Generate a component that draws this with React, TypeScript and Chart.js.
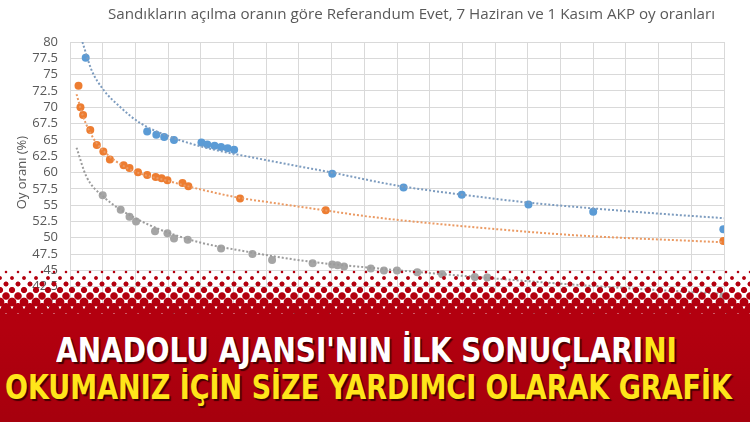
import React, { useEffect, useLayoutEffect, useRef } from "react";
import { Chart, registerables } from "chart.js";

Chart.register(...registerables);

// ---- Data ----
const titleText = "Sandıkların açılma oranın göre Referandum Evet, 7 Haziran ve 1 Kasım AKP oy oranları";
const yAxisTitle = "Oy oranı (%)";

const blueX = [2.4, 11.8, 13.2, 14.4, 15.9, 20.1, 21.0, 22.1, 23.1, 24.1, 25.1, 40.1, 51.0, 59.9, 70.1, 80.0, 99.9];
const blueY = [77.6, 66.3, 65.8, 65.45, 65.0, 64.6, 64.3, 64.1, 63.9, 63.7, 63.5, 59.8, 57.7, 56.6, 55.1, 54.0, 51.3];

const orangeX = [1.3, 1.6, 2.0, 3.1, 4.1, 5.1, 6.1, 8.2, 9.1, 10.4, 11.8, 13.1, 14.0, 14.9, 17.2, 18.1, 26.0, 39.1, 99.9];
const orangeY = [73.3, 70.0, 68.8, 66.5, 64.2, 63.2, 62.0, 61.1, 60.7, 60.05, 59.6, 59.3, 59.1, 58.8, 58.4, 57.9, 56.0, 54.2, 49.5];

const grayX = [5.0, 7.75, 9.1, 10.1, 13.0, 14.9, 15.9, 18.0, 23.1, 27.9, 30.9, 37.1, 40.1, 40.9, 41.9, 46.0, 48.0, 50.0, 53.1, 56.9, 61.9, 63.8, 99.9];
const grayY = [56.5, 54.3, 53.2, 52.5, 51.0, 50.7, 49.9, 49.7, 48.35, 47.5, 46.6, 46.1, 45.9, 45.8, 45.6, 45.3, 45.0, 45.0, 44.7, 44.4, 44.0, 43.9, 41.0];

// Trend lines (dotted)
const blueTrendX = [1.9, 3.3, 5.1, 7.6, 10.7, 15, 20, 30, 40, 50, 60, 70, 80, 90, 100];
const blueTrendY = [80, 75.7, 72.7, 70.1, 67.6, 65.6, 64.0, 61.9, 60.0, 58.0, 56.6, 55.4, 54.5, 53.7, 53.0];

const orangeTrendX = [1.0, 2, 3, 4, 6, 8, 10, 15, 20, 26, 30, 39, 46, 62, 77, 100];
const orangeTrendY = [72.0, 68.6, 66.3, 64.6, 62.5, 61.1, 60.1, 58.7, 57.4, 56.1, 55.5, 54.2, 53.2, 51.6, 50.4, 49.3];

const grayTrendX = [1.0, 2.5, 5, 10, 18, 28, 37, 46, 62, 80, 100];
const grayTrendY = [63.8, 59.4, 56.4, 53.0, 49.8, 47.7, 46.3, 45.4, 44.0, 42.6, 41.4];

const xMin = 0, xMax = 100, xStep = 5;
const yMin = 40, yMax = 80, yStep = 2.5;

const bannerLine1White = "ANADOLU AJANSI'NIN İLK SONUÇLARI";
const bannerLine1Yellow = "NI";
const bannerLine2 = "OKUMANIZ İÇİN SİZE YARDIMCI OLARAK GRAFİK";

const BLUE = "#5b9bd5";
const ORANGE = "#ed7d31";
const GRAY = "#a5a5a5";
const RED = "#b3000f";

const zip = (xs: number[], ys: number[]) => xs.map((x, i) => ({ x, y: ys[i] }));

function FitText(props: { left: number; top: number; width: number; style: React.CSSProperties; children: React.ReactNode }) {
  const ref = useRef<HTMLDivElement>(null);
  useLayoutEffect(() => {
    const el = ref.current;
    if (!el) return;
    el.style.transform = "none";
    const w = el.getBoundingClientRect().width;
    if (w > 0) el.style.transform = `scaleX(${props.width / w})`;
  });
  return (
    <div
      ref={ref}
      style={{
        position: "absolute",
        left: props.left,
        top: props.top,
        whiteSpace: "nowrap",
        transformOrigin: "0 0",
        lineHeight: 1,
        ...props.style,
      }}
    >
      {props.children}
    </div>
  );
}

export default function App() {
  const canvasRef = useRef<HTMLCanvasElement>(null);

  useEffect(() => {
    const canvas = canvasRef.current;
    if (!canvas) return;
    const trend = (xs: number[], ys: number[], color: string) => ({
      type: "scatter" as const,
      data: zip(xs, ys),
      showLine: true,
      borderColor: color,
      borderWidth: 2,
      borderDash: [2, 2],
      pointRadius: 0,
      cubicInterpolationMode: "monotone" as const,
      fill: false,
    });
    const pts = (xs: number[], ys: number[], color: string) => ({
      type: "scatter" as const,
      data: zip(xs, ys),
      showLine: false,
      backgroundColor: color,
      borderColor: color,
      pointRadius: 4,
      pointBorderWidth: 0,
    });
    const chart = new Chart(canvas, {
      type: "scatter",
      data: {
        datasets: [
          trend(blueTrendX, blueTrendY, "#7d9cbf"),
          trend(orangeTrendX, orangeTrendY, "#eb9a63"),
          trend(grayTrendX, grayTrendY, "#9c9c9c"),
          pts(blueX, blueY, BLUE),
          pts(orangeX, orangeY, ORANGE),
          pts(grayX, grayY, GRAY),
        ] as any,
      },
      options: {
        animation: false,
        responsive: false,
        devicePixelRatio: 1,
        layout: { padding: { left: 0, right: 26, top: 42, bottom: 0 } },
        plugins: { legend: { display: false }, tooltip: { enabled: false }, title: { display: false } },
        scales: {
          x: {
            type: "linear",
            min: xMin,
            max: xMax,
            ticks: { stepSize: xStep, autoSkip: false, color: "#595959", font: { size: 13, family: "'Open Sans', sans-serif" }, maxRotation: 0 },
            grid: { color: "#d9d9d9", drawTicks: false },
            border: { color: "#d9d9d9" },
            afterFit: (s: any) => {
              s.height = 119;
            },
          },
          y: {
            min: yMin,
            max: yMax,
            ticks: { stepSize: yStep, autoSkip: false, padding: 12, color: "#595959", font: { size: 13, family: "'Open Sans', sans-serif" } },
            grid: { color: "#d9d9d9", drawTicks: false },
            border: { color: "#d9d9d9" },
            title: {
              display: true,
              text: yAxisTitle,
              color: "#595959",
              font: { size: 13, family: "'Open Sans', sans-serif" },
              padding: { top: 14, bottom: 0 },
            },
            afterFit: (s: any) => {
              s.width = 70;
            },
          },
        },
      } as any,
    });
    return () => chart.destroy();
  }, []);

  // halftone rows (decorative)
  const rows = [] as React.ReactNode[];
  for (let i = 0; i < 10; i++) {
    const y = 272 + i * 6;
    const r = 0.8 + i * 0.62;
    const off = i % 2 === 0 ? 0 : 6;
    rows.push(
      <div
        key={i}
        style={{
          position: "absolute",
          left: 0,
          top: y - 11,
          width: 750,
          height: 22,
          backgroundImage: `radial-gradient(circle at 6px 11px, ${RED} ${r}px, rgba(179,0,15,0) ${r + 0.9}px)`,
          backgroundSize: "12px 22px",
          backgroundPosition: `${off}px 0px`,
          backgroundRepeat: "repeat-x",
        }}
      />
    );
  }

  const bannerFont: React.CSSProperties = {
    fontFamily: "'DejaVu Sans Condensed', 'Liberation Sans Narrow', 'DejaVu Sans', sans-serif",
    fontWeight: 700,
    fontSize: 33,
    textShadow: "2px 2px 1px rgba(50,0,0,0.85)",
  };

  return (
    <div style={{ position: "absolute", left: 0, top: 0, width: 750, height: 422, overflow: "hidden", background: "#fff" }}>
      <canvas ref={canvasRef} width={750} height={422} style={{ position: "absolute", left: 0, top: 0, width: 750, height: 422 }} />
      <FitText left={108} top={7} width={607} style={{ fontFamily: "'Open Sans', sans-serif", fontSize: 14, color: "#595959" }}>
        {titleText}
      </FitText>
      {rows}
      <div
        style={{
          position: "absolute",
          left: 0,
          top: 327,
          width: 750,
          height: 95,
          background: `linear-gradient(to bottom, ${RED}, #a6000d)`,
        }}
      />
      <FitText left={56} top={334} width={621} style={{ ...bannerFont, color: "#ffffff" }}>
        {bannerLine1White}
        <span style={{ color: "#ffe51a" }}>{bannerLine1Yellow}</span>
      </FitText>
      <FitText left={5} top={371} width={727} style={{ ...bannerFont, color: "#ffe51a" }}>
        {bannerLine2}
      </FitText>
    </div>
  );
}
